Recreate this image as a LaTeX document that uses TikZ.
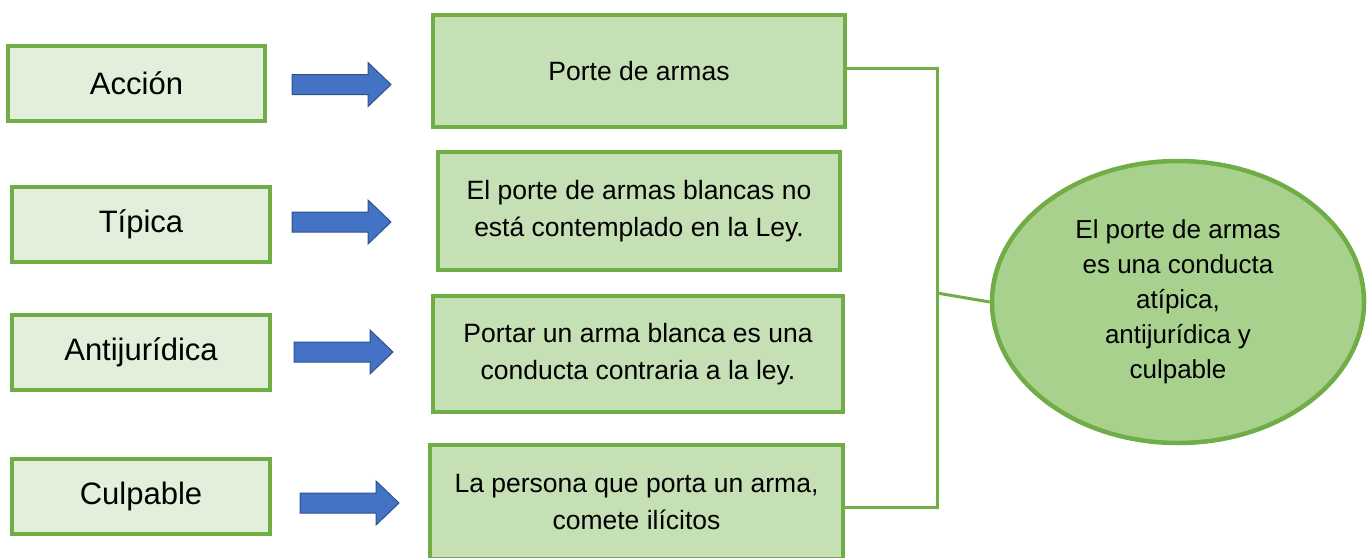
\documentclass[tikz,border=0pt]{standalone}
\usepackage{fontspec}
\setmainfont{Liberation Sans}
\usetikzlibrary{shapes.geometric}
\definecolor{gborder}{HTML}{70AD47}
\definecolor{lfill}{HTML}{E2EFDA}
\definecolor{mfill}{HTML}{C5E0B4}
\definecolor{efill}{HTML}{A9D18E}
\definecolor{afill}{HTML}{4472C4}
\definecolor{aborder}{HTML}{2F528F}
\tikzset{
  leftbox/.style={draw=gborder, fill=lfill, line width=4pt, inner sep=0pt, align=center,
    font=\fontsize{31}{37}\selectfont, minimum width=257pt, minimum height=75pt},
  midbox/.style={draw=gborder, fill=mfill, line width=4.5pt, inner sep=0pt, align=center,
    font=\fontsize{26.5}{37}\selectfont},
  concl/.style={ellipse, draw=gborder, fill=efill, line width=4.5pt, inner sep=0pt, align=center,
    font=\fontsize{26}{35}\selectfont, minimum width=372pt, minimum height=282pt},
  link/.style={draw=gborder, line width=3pt},
  bluearrow/.style={draw=aborder, fill=afill, line width=1pt, line join=miter}
}
\begin{document}
\begin{tikzpicture}[x=1pt,y=-1pt]
\useasboundingbox (0,0) rectangle (1372,557);
% left boxes
\node[leftbox] (a1) at (136.5,83) {Acción};
\node[leftbox, minimum width=258pt] (a2) at (141,224) {Típica};
\node[leftbox, minimum width=258pt] (a3) at (141,352.5) {Antijurídica};
\node[leftbox, minimum width=258pt] (a4) at (141,496) {Culpable};
% middle boxes
\node[midbox, minimum width=412pt, minimum height=112pt] (b1) at (639,71) {Porte de armas};
\node[midbox, minimum width=402pt, minimum height=118pt] (b2) at (639,211) {El porte de armas blancas no\\está contemplado en la Ley.};
\node[midbox, minimum width=410pt, minimum height=116pt] (b3) at (638,354) {Portar un arma blanca es una\\conducta contraria a la ley.};
\node[midbox, minimum width=413pt, minimum height=114pt] (b4) at (636.5,502) {La persona que porta un arma,\\comete ilícitos};
% conclusion
\node[concl] (e) at (1178,302) {El porte de armas\\es una conducta\\atípica,\\antijurídica y\\culpable};
% arrows
\foreach \x/\y in {292/84.5, 292/222, 294/352, 300/503}{
  \draw[bluearrow] (\x,\y) ++(0,-10) -- ++(76,0) -- ++(0,-12) -- ++(23,22) -- ++(-23,22) -- ++(0,-12) -- ++(-76,0) -- cycle;
}
% bracket
\coordinate (t) at (937,68);
\coordinate (bt) at (937,507);
\coordinate (j) at (937,293);
\draw[link] (b1.east |- t) -- (t) -- (bt) -- (b4.east |- bt);
\draw[link] (j) -- (e.west);
\end{tikzpicture}
\end{document}
